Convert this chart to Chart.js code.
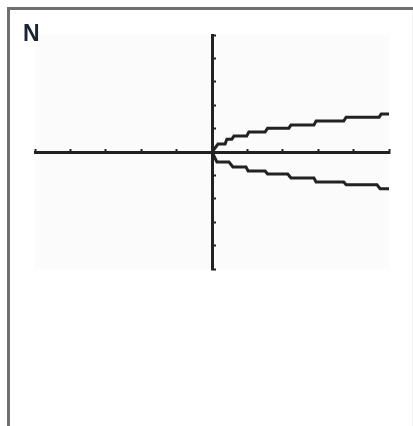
<!DOCTYPE html>
<html>
<head>
<meta charset="utf-8">
<script src="https://cdn.jsdelivr.net/npm/chart.js@4/dist/chart.umd.min.js"></script>
<style>
  html, body { margin: 0; padding: 0; background: #fff; overflow: hidden; width: 413px; height: 426px; }
  #frame {
    position: absolute; left: 7px; top: 7px; width: 403px; height: 416px;
    border-top: 3px solid #707070; border-left: 3px solid #707070;
  }
  #edge { position: absolute; left: 412px; top: 10px; width: 1px; height: 416px; background: #f0f0f0; }
  #label {
    position: absolute; left: 23px; top: 20px;
    font: bold 23px "Liberation Sans", Arial, sans-serif; color: #1b2433;
  }
  #wrap { position: absolute; left: 0; top: 0; width: 413px; height: 426px; }
</style>
</head>
<body>
<div id="frame"></div>
<div id="edge"></div>
<div id="wrap"><canvas id="graph"></canvas></div>
<div id="label">N</div>
<script>
// window is -5..5 on both axes, one tick per unit
const xMin = -5, xMax = 5, yMin = -5, yMax = 5;

// upper branch as lit pixel runs: where each run starts and ends, and its height
const upperStart = [0.17, 0.42, 0.62, 1.04, 1.57, 2.23, 2.94, 3.79, 4.78];
const upperEnd   = [0.37, 0.56, 0.98, 1.5, 2.17, 2.88, 3.72, 4.72, 5];
const upperY     = [0.34, 0.55, 0.68, 0.85, 1.02, 1.15, 1.32, 1.49, 1.62];

// lower branch
const lowerStart = [0.14, 0.59, 1.02, 1.57, 2.23, 2.94, 3.79, 4.75];
const lowerEnd   = [0.48, 0.96, 1.5, 2.14, 2.88, 3.72, 4.66, 5];
const lowerY     = [-0.43, -0.64, -0.81, -0.94, -1.11, -1.28, -1.4, -1.57];

const ink = "#222";

// both branches leave from the origin
function toPoints(starts, ends, ys) {
  const pts = [{x: 0, y: 0}];
  starts.forEach((s, i) => {
    pts.push({x: s, y: ys[i]});
    pts.push({x: ends[i], y: ys[i]});
  });
  return pts;
}

function branch(starts, ends, ys) {
  return {
    data: toPoints(starts, ends, ys),
    borderColor: ink,
    borderWidth: 3,
    pointRadius: 0,
    tension: 0,
    fill: false
  };
}

// faint screen tint behind the window
const screenTint = {
  id: "screenTint",
  beforeDraw(chart) {
    const {ctx, chartArea: a} = chart;
    ctx.save();
    ctx.fillStyle = "#fbfbfb";
    ctx.fillRect(a.left, a.top, a.right - a.left, a.bottom - a.top);
    ctx.restore();
  }
};

function axis(min, max, pos) {
  return {
    type: "linear",
    min,
    max,
    position: pos,
    ticks: {display: false, stepSize: 1},
    grid: {drawOnChartArea: false, drawTicks: true, tickLength: -5, tickWidth: 2, color: ink},
    border: {display: true, color: ink, width: 3}
  };
}

new Chart(document.getElementById("graph"), {
  type: "line",
  data: {
    datasets: [
      branch(upperStart, upperEnd, upperY),
      branch(lowerStart, lowerEnd, lowerY)
    ]
  },
  options: {
    animation: false,
    responsive: true,
    maintainAspectRatio: false,
    layout: {padding: {left: 35, top: 35, right: 24, bottom: 157}},
    plugins: {legend: {display: false}, tooltip: {enabled: false}},
    scales: {
      x: axis(xMin, xMax, {y: 0}),
      y: axis(yMin, yMax, {x: 0})
    }
  },
  plugins: [screenTint]
});
</script>
</body>
</html>
